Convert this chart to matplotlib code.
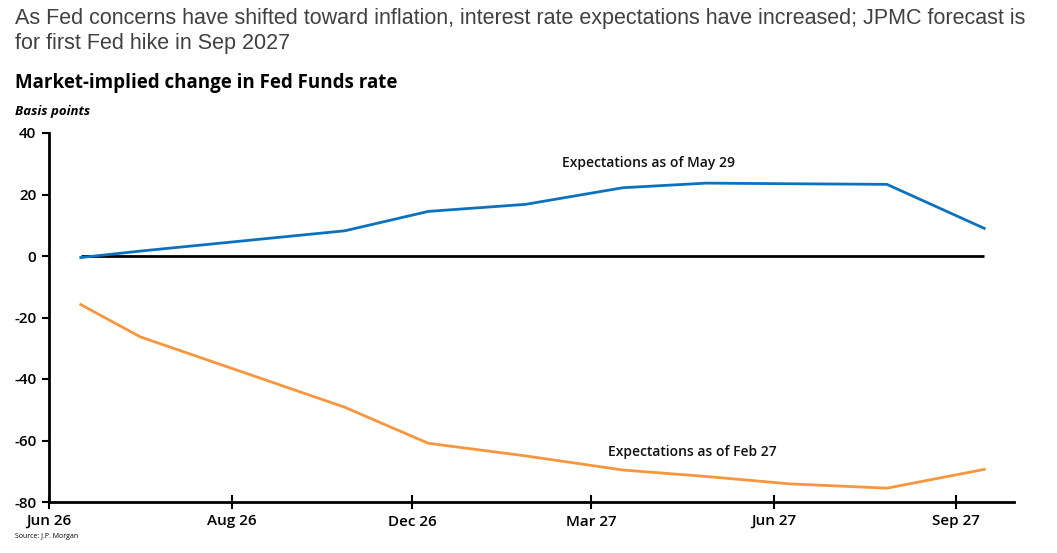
import matplotlib
matplotlib.use("Agg")
import matplotlib.pyplot as plt
import pandas as pd

# ---- data ----
dates = ["2026-06-17", "2026-07-17", "2026-10-28", "2026-12-09", "2027-01-27",
         "2027-03-17", "2027-04-28", "2027-06-09", "2027-07-28", "2027-09-15"]
may29 = [-0.5, 1.6, 8.2, 14.5, 16.8, 22.2, 23.7, 23.5, 23.3, 9.0]
feb27 = [-15.8, -26.3, -49.2, -60.9, -65.0, -69.6, -71.7, -74.1, -75.5, -69.4]
tick_dates = ["2026-06-01", "2026-09-01", "2026-12-01", "2027-03-01", "2027-06-01", "2027-09-01"]
tick_labels = ["Jun 26", "Aug 26", "Dec 26", "Mar 27", "Jun 27", "Sep 27"]
y_ticks = [40, 20, 0, -20, -40, -60, -80]

title = ("As Fed concerns have shifted toward inflation, interest rate expectations have increased; JPMC forecast is\n"
         "for first Fed hike in Sep 2027")
subtitle = "Market-implied change in Fed Funds rate"
units = "Basis points"
source = "Source: J.P. Morgan"
label_may = "Expectations as of May 29"
label_feb = "Expectations as of Feb 27"

x = pd.to_datetime(dates)
xt = pd.to_datetime(tick_dates)

fig = plt.figure(figsize=(10.57, 5.53), dpi=100)
ax = fig.add_axes([49/1057, 1-502/553, 965/1057, 369/553])

blue = "#0B72BE"
orange = "#F7963E"
ax.hlines(0, x[0], x[-1], color="black", lw=2.0, zorder=2)
ax.plot(x, may29, color=blue, lw=2.0, zorder=3, solid_joinstyle="round")
ax.plot(x, feb27, color=orange, lw=2.0, zorder=3, solid_joinstyle="round")

ax.set_xlim(pd.Timestamp("2026-06-01"), pd.Timestamp("2027-09-30"))
ax.set_ylim(-80, 40)
ax.set_yticks(y_ticks)
ax.set_yticklabels([str(v) for v in y_ticks])
ax.set_xticks(xt)
ax.set_xticklabels(tick_labels)

for s in ["top", "right"]:
    ax.spines[s].set_visible(False)
for s in ["left", "bottom"]:
    ax.spines[s].set_linewidth(2.0)
    ax.spines[s].set_color("black")

ax.tick_params(axis="y", direction="out", length=5, width=1.5, pad=4, labelsize=11)
ax.tick_params(axis="x", direction="inout", length=10, width=1.5, pad=4, labelsize=11)
for lab in ax.get_xticklabels() + ax.get_yticklabels():
    lab.set_fontfamily("Open Sans")
    lab.set_fontweight("semibold")
    lab.set_color("black")

ax.text(pd.Timestamp("2027-03-30"), 30.2, label_may, ha="center", va="center",
        fontsize=10, fontfamily="Open Sans", fontweight="semibold", color="#111111")
ax.text(pd.Timestamp("2027-04-21"), -63.7, label_feb, ha="center", va="center",
        fontsize=10, fontfamily="Open Sans", fontweight="semibold", color="#111111")

fig.text(15/1057, 1-8/553, title, ha="left", va="top", fontsize=15.5,
         fontfamily="Liberation Sans", color="#404040", linespacing=1.25)
fig.text(15/1057, 1-83/553, subtitle, ha="left", va="center", fontsize=13.5,
         fontfamily="Open Sans", fontweight="bold", color="black")
fig.text(15/1057, 1-112/553, units, ha="left", va="center", fontsize=9.5,
         fontfamily="Open Sans", fontweight="bold", fontstyle="italic", color="black")
fig.text(15/1057, 1-536/553, source, ha="left", va="center", fontsize=5,
         fontfamily="Open Sans", color="black")

fig.savefig("out.png", dpi=100)
